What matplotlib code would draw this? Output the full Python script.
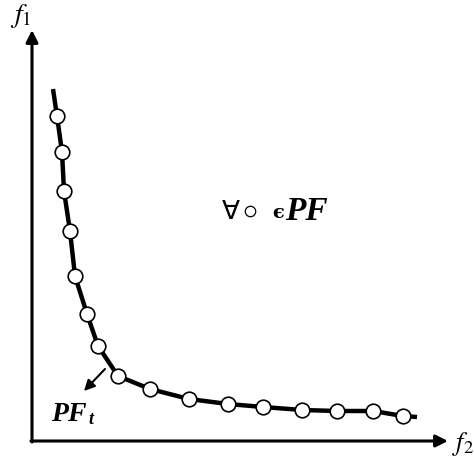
import matplotlib
matplotlib.use("Agg")
import matplotlib.pyplot as plt

plt.rcParams['mathtext.fontset'] = 'stix'

# Pareto front samples (axis origin at the corner)
f2 = [25, 30, 32, 38, 43, 55, 66, 86, 118, 157, 196, 231, 270, 305, 341, 371]
f1 = [325, 289, 250, 210, 165, 127, 95, 65, 52, 42, 37, 34, 31, 30, 30, 25]
# ends of the drawn front
front_f2 = [21] + f2 + [385]
front_f1 = [352] + f1 + [24]

fig = plt.figure(figsize=(4.74, 4.64), dpi=100)
ax = fig.add_axes([0, 0, 1, 1])
ax.set_xlim(-32, 442)
ax.set_ylim(-22, 442)
ax.axis('off')

# axes with arrow heads
arw = dict(arrowstyle='-|>', color='black', lw=2.2, mutation_scale=18,
           shrinkA=0, shrinkB=0)
ax.annotate('', xy=(0, 411), xytext=(0, -1), arrowprops=arw)
ax.annotate('', xy=(416, 0), xytext=(-1, 0), arrowprops=arw)
ax.text(-22, 440, r'$f_1$', fontsize=20, ha='left', va='top')
ax.text(420, -2, r'$f_2$', fontsize=19, ha='left', va='center')

# front line + samples
ax.plot(front_f2, front_f1, color='black', lw=3.2, solid_capstyle='butt',
        zorder=2)
ax.plot(f2, f1, 'o', ms=10.5, mfc='white', mec='black', mew=1.2, zorder=3)

# label PF_t with small arrow
ax.annotate('', xy=(52, 50), xytext=(73, 72),
            arrowprops=dict(arrowstyle='-|>', color='black', lw=1.5,
                            mutation_scale=16, shrinkA=0, shrinkB=0))
ax.text(19, 27, 'PF', fontsize=20, family='Liberation Serif',
        weight='bold', style='italic', ha='left', va='center')
ax.text(56, 22, 't', fontsize=13, family='Liberation Serif',
        weight='bold', style='italic', ha='left', va='center')

# "for all samples in PF"
ax.text(190, 230, '\u2200', fontsize=19, family='DejaVu Sans',
        ha='left', va='center')
ax.plot([218], [230], 'o', ms=7.5, mfc='white', mec='black', mew=0.9)
ax.text(240, 229, '\u03f5', fontsize=14, family='DejaVu Serif',
        weight='bold', ha='left', va='center')
ax.text(253, 230, 'PF', fontsize=24, family='Liberation Serif',
        weight='bold', style='italic', ha='left', va='center')

fig.savefig('out.png', dpi=100)
